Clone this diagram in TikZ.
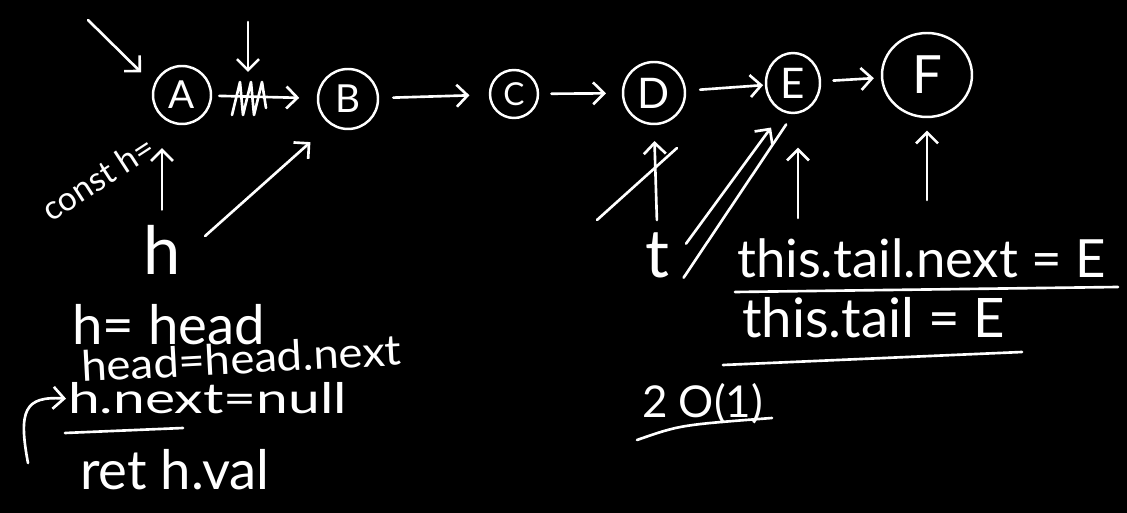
\documentclass[tikz,border=0pt]{standalone}
\usepackage{fontspec}
\setmainfont{Lato}
\usepackage{graphicx}
\usepackage{tikz}
\usetikzlibrary{arrows.meta,shapes.geometric}
\newcommand{\letra}[1]{\fontsize{#1}{#1}\selectfont}

\begin{document}
\begin{tikzpicture}[
  x=0.02cm, y=-0.02cm,
  every node/.style={text=white, inner sep=1pt},
  celula/.style={circle, draw=white, line width=1.4pt, inner sep=0pt, font=\letra{22}},
  ponteiro/.style={font=\letra{38}, outer sep=4pt},
  nota/.style={anchor=base west, font=\letra{31}},
  seta/.style={-{Straight Barb[length=2.2mm,width=4.4mm]}, line width=1.5pt, draw=white, line cap=round},
  risco/.style={line width=1.5pt, draw=white, line cap=round, line join=round}
]
  \path[use as bounding box, fill=black] (0,0) rectangle (1127,513);

  \node[celula, minimum size=1.16cm] (a) at (182,95) {A};
  \node[celula, minimum size=1.2cm] (b) at (348,99) {B};
  \node[celula, minimum size=0.96cm, font=\letra{18}] (c) at (514,94) {C};
  \node[celula, minimum size=1.24cm, font=\letra{24}] (d) at (654,93) {D};
  \node[celula, ellipse, minimum width=1.08cm, minimum height=1.2cm, font=\letra{24}] (e) at (793,83) {E};
  \node[celula, ellipse, minimum width=1.8cm, minimum height=1.68cm, font=\letra{30}] (f) at (927,75) {F};

  \draw[seta, shorten <=4pt, shorten >=10pt] (a) -- (b);
  \draw[seta, shorten <=8pt, shorten >=11pt] (b) -- (c);
  \draw[seta, shorten <=7pt, shorten >=9pt] (c) -- (d);
  \draw[seta, shorten <=8pt, shorten >=1pt] (d) -- (e);
  \draw[seta, shorten <=7pt, shorten >=4pt] (e) -- (f);
  \draw[risco] (232,115) -- (240,82) -- (243,115) -- (251,82) -- (254,115) -- (262,82) -- (266,108);

  \coordinate (pa) at (88,20);
  \coordinate (pc) at (248,22);
  \coordinate (riscoab) at (248,72);
  \draw[seta, shorten >=10pt] (pa) -- (a.160);
  \draw[seta] (pc) -- (riscoab);

  \node[ponteiro] (h) at (162,250) {h};
  \node[rotate=33, font=\letra{19}] (consth) at (98,178) {const h=};
  \draw[seta, shorten <=4pt, shorten >=13pt] (h.north) -- (h.north |- a.south);
  \draw[seta, shorten <=12pt, shorten >=15pt] (h.east) -- (b.235);

  \node[ponteiro] (t) at (657,255) {t};
  \draw[seta, shorten <=2pt, shorten >=9pt] (t.north) -- (d.south);
  \draw[risco] (597,220) -- (677,148);
  \draw[seta, shorten <=8pt, shorten >=11pt] (t.east) -- (e.250);
  \draw[risco, shorten <=6pt, shorten >=7pt] (t.south east) -- (e.south);

  \coordinate (pe) at (798,218);
  \coordinate (pf) at (927,200);
  \draw[seta, shorten >=19pt] (pe) -- (pe |- e.south);
  \draw[seta, shorten >=7pt] (pf) -- (pf |- f.south);

  \node[nota, font=\letra{30}] (tailnext) at (735,278) {this.tail.next = E};
  \draw[risco] (735,292) -- (1118,287);
  \node[nota] (tail) at (740,338) {this.tail = E};
  \draw[risco] (723,365) -- (1022,352);
  \node[nota, font=\letra{25}] (custo) at (640,418) {2 O(1)};
  \draw[risco] (637,440) .. controls (680,425) .. (772,418);

  \node[nota] (hhead) at (70,345) {h= head};
  \node[nota, rotate=3, font=\letra{24}] (headnext) at (80,382) {\scalebox{1.08}[1]{head=head.next}};
  \node[nota, font=\letra{24}] (hnull) at (66,414) {\scalebox{1.35}[1]{h.next=null}};
  \draw[risco] (65,433) -- (183,428);
  \node[nota] (ret) at (78,490) {ret h.val};
  \coordinate (volta) at (28,463);
  \draw[seta] (volta) .. controls (18,410) and (25,396) .. (hnull.west);
\end{tikzpicture}
\end{document}
